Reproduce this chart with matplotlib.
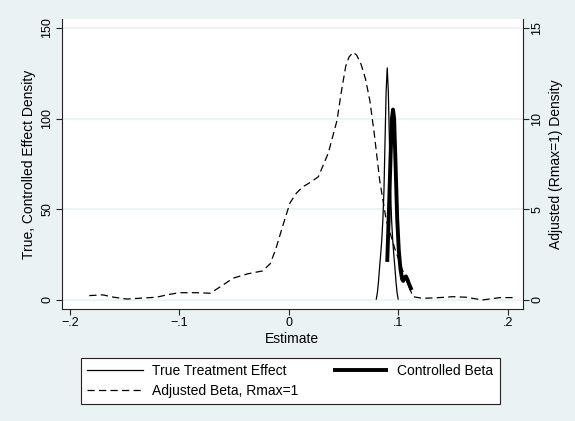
import numpy as np
import matplotlib.pyplot as plt

plt.rcParams['font.family'] = ['Liberation Sans', 'DejaVu Sans']

# true treatment effect density (left axis)
true_x = [0.0799, 0.0809, 0.0819, 0.0829, 0.0839, 0.0849, 0.0859, 0.0869, 0.0879, 0.0889,
          0.0899, 0.0909, 0.0919, 0.0929, 0.0939, 0.0949, 0.0959, 0.0969, 0.0979, 0.0989, 0.0999]
true_y = [0.5, 4, 10, 18, 25, 33, 44, 60, 88, 115,
          128, 115, 88, 60, 44, 33, 25, 18, 10, 4, 0.5]

# controlled beta density (left axis)
ctrl_x = [0.0899, 0.0915, 0.0930, 0.0942, 0.0952, 0.0962, 0.0975, 0.0990, 0.1005,
          0.1020, 0.1035, 0.1045, 0.1058, 0.1070, 0.1085, 0.1100, 0.1122]
ctrl_y = [21, 50, 80, 100, 105, 100, 75, 45, 27,
          17, 11.5, 10.5, 12.5, 13, 11, 8.5, 5.5]

# adjusted beta density, Rmax=1 (right axis)
adj_x = [-0.1824, -0.170, -0.160, -0.148, -0.135, -0.121, -0.110, -0.100, -0.085, -0.072,
         -0.062, -0.051, -0.037, -0.024, -0.017, -0.012, -0.006, 0.001, 0.007, 0.013,
         0.020, 0.027, 0.036, 0.044, 0.048, 0.052, 0.055, 0.0587, 0.062, 0.066,
         0.070, 0.074, 0.078, 0.083, 0.089, 0.097, 0.106, 0.1135, 0.122, 0.135,
         0.150, 0.162, 0.177, 0.193, 0.205]
adj_y = [0.24, 0.28, 0.15, 0.05, 0.10, 0.15, 0.30, 0.40, 0.40, 0.37,
         0.75, 1.2, 1.45, 1.6, 2.0, 2.8, 4.0, 5.35, 5.9, 6.25,
         6.5, 6.8, 8.1, 9.9, 11.5, 12.9, 13.4, 13.66, 13.5, 13.0,
         12.2, 11.0, 9.2, 6.6, 4.4, 2.8, 1.29, 0.18, 0.09, 0.12,
         0.18, 0.15, 0.0, 0.13, 0.13]

xticks = [-0.2, -0.1, 0, 0.1, 0.2]
xtick_labels = ['\u2212.2', '\u2212.1', '0', '.1', '.2']
left_ticks = [0, 50, 100, 150]
right_ticks = [0, 5, 10, 15]

bg = '#EAF2F3'
fig = plt.figure(figsize=(5.75, 4.21), dpi=100, facecolor=bg)
ax = fig.add_axes([0.1073, 0.266, 0.8023, 0.689])
ax.set_facecolor('white')
ax2 = ax.twinx()

l1, = ax.plot(true_x, true_y, color='black', lw=0.9)
l2, = ax.plot(ctrl_x, ctrl_y, color='black', lw=2.8, solid_capstyle='butt')
l3, = ax2.plot(adj_x, adj_y, color='black', lw=0.9, linestyle=(0, (5.8, 3.4)))

ax.set_xlim(-0.2076, 0.214)
ax.set_ylim(-5, 155)
ax2.set_ylim(-0.5, 15.5)

ax.set_yticks(left_ticks)
ax.set_yticklabels([str(t) for t in left_ticks], rotation=90, va='center', fontsize=9)
ax2.set_yticks(right_ticks)
ax2.set_yticklabels([str(t) for t in right_ticks], rotation=90, va='center', fontsize=9)
ax.set_xticks(xticks)
ax.set_xticklabels(xtick_labels, fontsize=9)

ax.grid(axis='y', color=bg, lw=1.2)
ax.set_axisbelow(True)

for a in (ax, ax2):
    a.spines['top'].set_visible(False)
    for s in a.spines.values():
        s.set_color('#222222')
        s.set_linewidth(0.8)
    a.tick_params(direction='out', length=4, width=0.8, color='#222222', pad=2)
ax2.spines['left'].set_visible(False)
ax2.spines['bottom'].set_visible(False)
ax.spines['right'].set_visible(False)

ax.set_xlabel('Estimate', fontsize=10, labelpad=2)
ax.set_ylabel('True, Controlled Effect Density', fontsize=10, labelpad=4)
ax2.set_ylabel('Adjusted (Rmax=1) Density', fontsize=10, labelpad=4)

leg = fig.legend([l1, l3, l2],
                 ['True Treatment Effect', 'Adjusted Beta, Rmax=1', 'Controlled Beta'],
                 ncol=2, loc='lower left', bbox_to_anchor=(0.1409, 0.0404),
                 borderaxespad=0, fontsize=10, handlelength=4, handletextpad=0.65,
                 columnspacing=2.5, frameon=True, fancybox=False, edgecolor='#222222',
                 framealpha=1, borderpad=0.45, labelspacing=0.4)
leg.get_frame().set_linewidth(0.8)

fig.savefig('out.png', dpi=100, facecolor=bg)
